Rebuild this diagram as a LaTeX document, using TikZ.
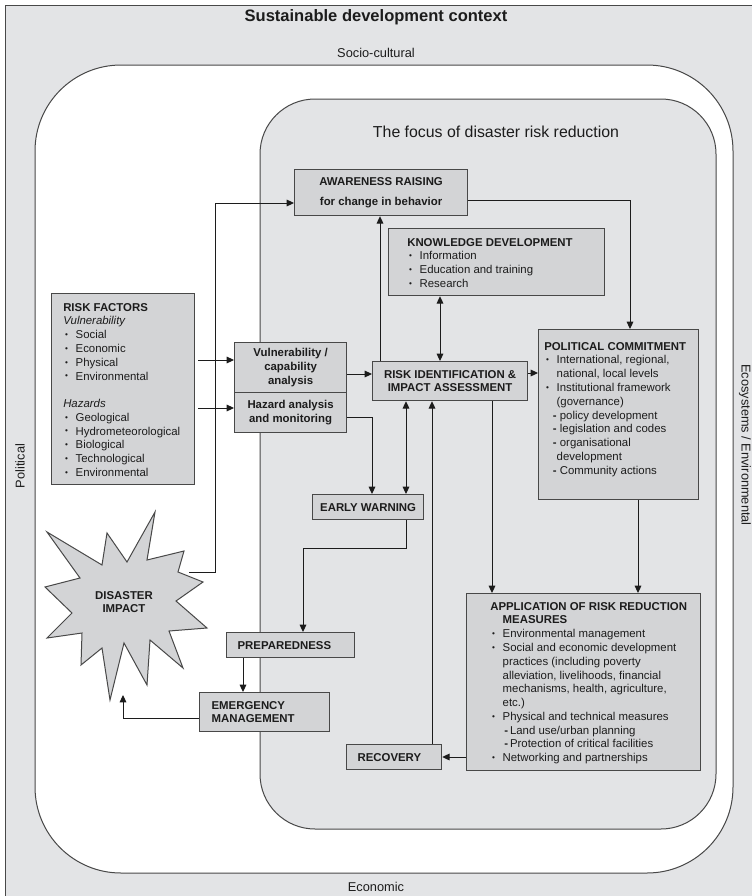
\documentclass[tikz,border=0pt]{standalone}
\usepackage{fontspec}
\setmainfont{Liberation Sans}
\usepackage{graphicx}
\usetikzlibrary{arrows.meta}
\definecolor{bggray}{RGB}{227,228,230}
\definecolor{boxgray}{RGB}{211,212,214}
\definecolor{linegray}{RGB}{72,72,72}
\definecolor{inkc}{RGB}{28,28,28}
\newcommand{\bodyfont}{\fontsize{8.55pt}{10.32pt}\selectfont}
\newcommand{\itm}[1]{\makebox[9.3pt][l]{\hspace*{1.4pt}\raisebox{0.2ex}{\scalebox{0.72}{\textbullet}}}#1}
\newcommand{\cnt}[1]{\hspace*{9.3pt}#1}
\begin{document}
\begin{tikzpicture}[x=0.75pt,y=-0.75pt,
  box/.style 2 args={draw=linegray, line width=0.9pt, fill=boxgray, inner sep=0pt,
    anchor=north west, minimum width=#1*0.75pt, minimum height=#2*0.75pt, text=inkc},
  btxt/.style={font=\bodyfont\bfseries},
  txt/.style={inner sep=0pt, align=left, font=\bodyfont, text=inkc, anchor=north west},
  lbl/.style={inner sep=0pt, font=\fontsize{9.6pt}{11pt}\selectfont, text=inkc},
  arr/.style={draw=inkc, line width=0.75pt, -{Triangle[length=5.5pt,width=5pt]}},
  darr/.style={draw=inkc, line width=0.75pt, {Triangle[length=5.5pt,width=5pt]}-{Triangle[length=5.5pt,width=5pt]}},
  region/.style={draw=linegray, line width=0.75pt}
]
\useasboundingbox (0,0) rectangle (752,896);
\fill[white] (0,0) rectangle (752,896);
\fill[bggray] (5,5) rectangle (752,896);
\draw[region] (5,896) -- (5,5) -- (752,5);

% regions
\draw[region, fill=white, rounded corners=64.5pt] (35,65) rectangle (733,873);
\draw[region, fill=bggray, rounded corners=41.25pt] (260,99) rectangle (716,829);

% frame labels
\node[inner sep=0pt, font=\fontsize{12.4pt}{14pt}\selectfont\bfseries, text=inkc] (title) at (376,17) {Sustainable development context};
\node[lbl] (socio) at (376,53) {Socio-cultural};
\node[lbl] (econ) at (376,887) {Economic};
\node[lbl, rotate=90] (polit) at (20,466) {Political};
\node[lbl, rotate=-90] (eco) at (745,445) {Ecosystems / Environmental};
\node[inner sep=0pt, font=\fontsize{11.9pt}{14pt}\selectfont, text=inkc] (focus) at (496,132) {The focus of disaster risk reduction};

% boxes
\node[box={173}{46}, btxt, align=center] (aw) at (294,169) {AWARENESS RAISING\\[4.7pt]for change in behavior};
\node[box={216}{67}] (kd) at (388,228) {};
\node[txt] (kdt) at (407,238) {\textbf{KNOWLEDGE DEVELOPMENT}\\
  \itm{Information}\\ \itm{Education and training}\\ \itm{Research}};

\node[box={143}{191}] (rf) at (51,293) {};
\node[txt] (rft) at (63,303) {\textbf{RISK FACTORS}\\
  \textit{Vulnerability}\\
  \itm{Social}\\ \itm{Economic}\\ \itm{Physical}\\ \itm{Environmental}\\[10.32pt]
  \textit{Hazards}\\
  \itm{Geological}\\ \itm{Hydrometeorological}\\ \itm{Biological}\\ \itm{Technological}\\ \itm{Environmental}};

\node[box={112}{50}, btxt, align=center] (vu) at (234,342) {Vulnerability /\\capability\\analysis};
\node[box={112}{40}, btxt, align=center] (hz) at (234,392) {Hazard analysis\\and monitoring};

\node[box={155}{39}, btxt, align=center] (ri) at (372,361) {RISK IDENTIFICATION \&\\IMPACT ASSESSMENT};

\node[box={160}{170}] (pc) at (538,329) {};
\node[txt] (pct) at (544,342) {\textbf{POLITICAL COMMITMENT}\\
  \itm{International, regional,}\\
  \cnt{national, local levels}\\
  \itm{Institutional framework}\\
  \cnt{(governance)}\\
  \hspace*{6.5pt}\textbf{-} policy development\\
  \hspace*{6.5pt}\textbf{-} legislation and codes\\
  \hspace*{6.5pt}\textbf{-} organisational\\
  \cnt{development}\\
  \hspace*{6.5pt}\textbf{-} Community actions};

\node[box={111}{25}, btxt] (ew) at (312,494) {EARLY WARNING};

\node[box={234}{177}] (ap) at (466,593) {};
\node[txt] (apt) at (490,602) {\textbf{APPLICATION OF RISK REDUCTION}\\
  \cnt{\textbf{MEASURES}}\\
  \itm{Environmental management}\\
  \itm{Social and economic development}\\
  \cnt{practices (including poverty}\\
  \cnt{alleviation, livelihoods, financial}\\
  \cnt{mechanisms, health, agriculture,}\\
  \cnt{etc.)}\\
  \itm{Physical and technical measures}\\
  \hspace*{10.5pt}\textbf{-}\hspace{1.5pt}Land use/urban planning\\
  \hspace*{10.5pt}\textbf{-}\hspace{1.5pt}Protection of critical facilities\\
  \itm{Networking and partnerships}};

\node[box={128}{25}, btxt, align=left, text width=79.5pt, inner xsep=8.25pt] (pr) at (226,632) {PREPAREDNESS};
\node[box={130}{39}, btxt, align=left, text width=79.5pt, inner xsep=9pt] (em) at (199,692) {EMERGENCY\\MANAGEMENT};
\node[box={95}{25}, btxt, align=left, text width=54.75pt, inner xsep=8.25pt] (rc) at (346,744) {RECOVERY};

% disaster impact star
\draw[draw=linegray, line width=0.75pt, fill=boxgray]
  (155,512) -- (147,560) -- (184,551) -- (178,572) -- (203,582) -- (176,601) --
  (207,628) -- (169,631) -- (183,668) -- (150,640) -- (147,685) -- (124,643) --
  (110,700) -- (102,648) -- (81,665) -- (82,633) -- (47,638) -- (72,613) --
  (45,587) -- (80,578) -- (47,532) -- (102,565) -- (107,533) -- (127,562) -- cycle;
\node[btxt, align=center, inner sep=0pt, text=inkc] (di) at (124,602) {DISASTER\\IMPACT};
\coordinate (dstart) at (189,572);
\coordinate (dend) at (123,695);

% connectors
\draw[arr, shorten <=2.25pt] (rf.east |- 0,360) -- (vu.west |- 0,360);
\draw[arr, shorten <=2.25pt] (rf.east |- 0,408) -- (hz.west |- 0,408);
\draw[arr] (vu.east |- 0,374) -- (ri.west |- 0,374);
\draw[arr] (hz.east |- 0,417) -| (ew.north -| 372,0);
\draw[darr] (ri.south -| 406,0) -- (ew.north -| 406,0);
\draw[arr] (rc.north -| 432,0) -- (ri.south -| 432,0);
\draw[arr] (ri.south -| 492,0) -- (ap.north -| 492,0);
\draw[arr] (ri.north -| 380,0) -- (aw.south -| 380,0);
\draw[darr] (kd.south -| 440,0) -- (ri.north -| 440,0);
\draw[arr] (ri.east |- 0,373) -- (pc.west |- 0,373);
\draw[arr] (aw.east |- 0,200) -| (pc.north -| 630,0);
\draw[arr] (pc.south -| 638,0) -- (ap.north -| 638,0);
\draw[arr] (ap.west |- 0,757) -- (rc.east |- 0,757);
\draw[arr] (ew.south -| 406,0) -- ++(0,28) -| (pr.north -| 303,0);
\draw[arr] (pr.south -| 243,0) -- (em.north -| 243,0);
\draw[arr] (em.west |- 0,718) -| (dend);
\draw[arr] (dstart) -- (215,572) -- (215,203) -- (aw.west |- 0,203);
\end{tikzpicture}
\end{document}
